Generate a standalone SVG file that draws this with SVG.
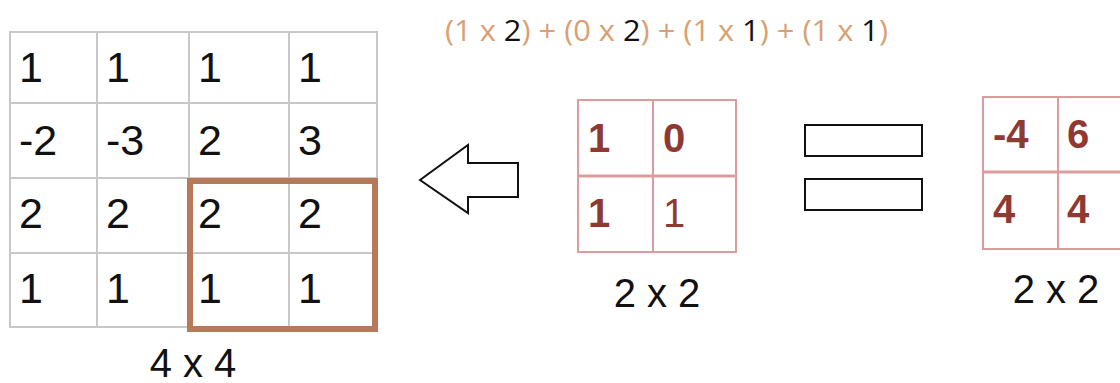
<svg xmlns="http://www.w3.org/2000/svg" width="1120" height="383" viewBox="0 0 1120 383">
<style>
.grid{fill:none;stroke:#c8c8c8;stroke-width:2}
.pink{fill:none;stroke:#dc9c9c;stroke-width:2}
.big{font-family:"Liberation Sans",Arial,sans-serif;font-size:43px;fill:#111}
.bold{font-family:"Liberation Sans",Arial,sans-serif;font-size:40px;font-weight:bold;fill:#8e3a32}
.lbl{font-family:"Liberation Sans",Arial,sans-serif;font-size:40px;fill:#111}
.f{font-family:"Open Sans","Liberation Sans",sans-serif;font-size:30px;fill:#d9a074}
.k{fill:#111}
</style>
<rect width="1120" height="383" fill="#fff"/>
<g id="formula">
<text class="f" x="445" y="41" textLength="443" lengthAdjust="spacingAndGlyphs">(1 x <tspan class="k">2</tspan>) + (0 x <tspan class="k">2</tspan>) + (1 x <tspan class="k">1</tspan>) + (1 x <tspan class="k">1</tspan>)</text>
</g>
<g id="matrix4x4">
<path class="grid" d="M10 32H377V327H10Z M97 32V327 M189 32V327 M289 32V327 M10 103H377 M10 178H377 M10 253H377"/>
<rect x="190" y="181" width="185" height="148" fill="none" stroke="#b8795a" stroke-width="6"/>
<g class="big">
<text x="19" y="82">1</text><text x="106" y="82">1</text><text x="198" y="82">1</text><text x="298" y="82">1</text>
<text x="19" y="155">-2</text><text x="106" y="155">-3</text><text x="198" y="155">2</text><text x="298" y="155">3</text>
<text x="19" y="228">2</text><text x="106" y="228">2</text><text x="198" y="228">2</text><text x="298" y="228">2</text>
<text x="19" y="303">1</text><text x="106" y="303">1</text><text x="198" y="303">1</text><text x="298" y="303">1</text>
</g>
<text class="lbl" x="193" y="377" text-anchor="middle">4 x 4</text>
</g>
<g id="arrow">
<path d="M420 180L468 145V163H518V197H468V213Z" fill="#fff" stroke="#111" stroke-width="2"/>
</g>
<g id="kernel">
<path class="pink" d="M578 100H736V252H578Z M653 100V252"/>
<path d="M578 176H736" stroke="#dc9c9c" stroke-width="3"/>
<g class="bold">
<text x="588" y="152">1</text><text x="663" y="152">0</text>
<text x="588" y="227">1</text><text x="663" y="227" font-weight="normal">1</text>
</g>
<text class="lbl" x="657" y="307" text-anchor="middle">2 x 2</text>
</g>
<g id="equals">
<rect x="805" y="125" width="117" height="31" fill="#fff" stroke="#111" stroke-width="2"/>
<rect x="805" y="179" width="117" height="31" fill="#fff" stroke="#111" stroke-width="2"/>
</g>
<g id="result">
<path class="pink" d="M983 97H1133V249H983Z M1058 97V249"/>
<path d="M983 172H1133" stroke="#dc9c9c" stroke-width="3"/>
<g class="bold">
<text x="993" y="148">-4</text><text x="1067" y="148">6</text>
<text x="993" y="223">4</text><text x="1067" y="223">4</text>
</g>
<text class="lbl" x="1056" y="303" text-anchor="middle">2 x 2</text>
</g>
</svg>
